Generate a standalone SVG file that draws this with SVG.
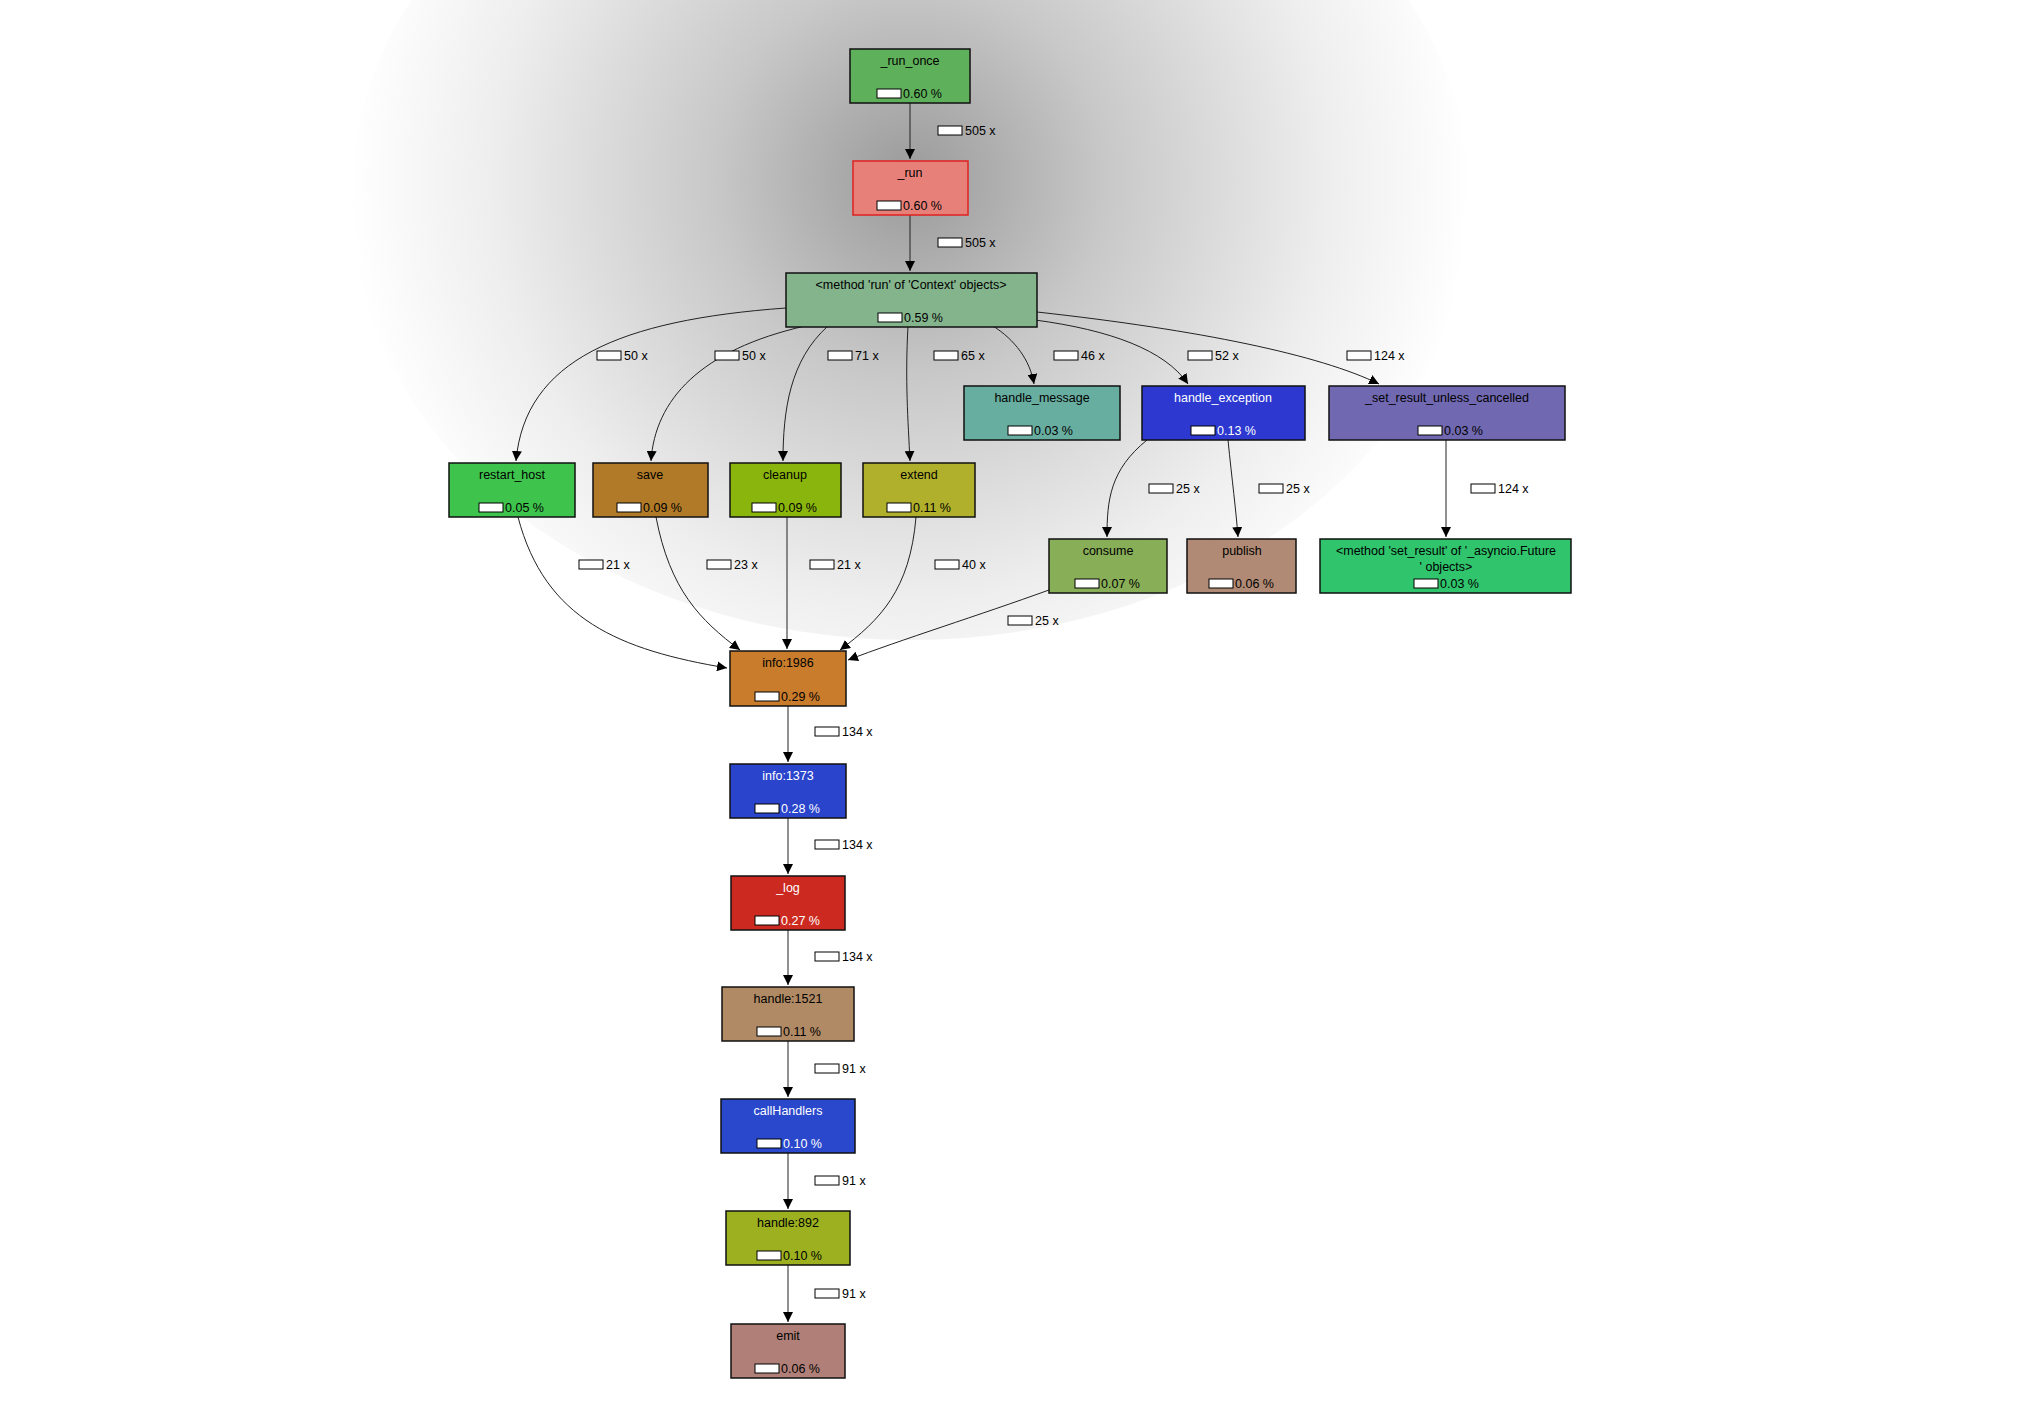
<svg xmlns="http://www.w3.org/2000/svg" width="2020" height="1428" viewBox="0 0 2020 1428">
<defs>
<radialGradient id="bg" cx="910" cy="180" r="560" gradientUnits="userSpaceOnUse">
<stop offset="0" stop-color="#9a9a9a"/><stop offset="0.35" stop-color="#c8c8c8"/><stop offset="0.75" stop-color="#eeeeee"/><stop offset="1" stop-color="#ffffff"/>
</radialGradient>
<marker id="ah" viewBox="0 0 10 10" refX="10" refY="5" markerWidth="10" markerHeight="10" markerUnits="userSpaceOnUse" orient="auto"><path d="M0,0 L10,5 L0,10 z" fill="#000"/></marker>
</defs>
<style>
.n rect.b{stroke:#111;stroke-width:1.5}
text{font-family:"Liberation Sans",Arial,sans-serif;font-size:12.5px;fill:#000}
.w text{fill:#fff}
.bar{fill:#fff;stroke:#000;stroke-width:1}
.e path{fill:none;stroke:#222;stroke-width:1;marker-end:url(#ah)}
.lb text{font-size:12.5px}
</style>
<rect width="2020" height="1428" fill="#fff"/>
<ellipse cx="910" cy="200" rx="560" ry="440" fill="url(#bg)"/>
<rect x="0" y="620" width="2020" height="808" fill="#fff" opacity="0"/>
<g class="e" id="edges">
<path d="M910,103 V159"/>
<path d="M910,215 V271"/>
<path d="M786,308 C620,320 525,360 516,461"/>
<path d="M805,326 C700,350 655,400 651,461"/>
<path d="M828,326 C790,360 783,410 783,461"/>
<path d="M908,326 C905,380 908,420 910,461"/>
<path d="M993,326 C1015,340 1030,360 1034,384"/>
<path d="M1035,320 C1110,330 1165,350 1188,384"/>
<path d="M1037,312 C1200,330 1320,355 1379,384"/>
<path d="M1147,440 C1110,470 1107,500 1107,537"/>
<path d="M1228,440 C1232,480 1236,510 1238,537"/>
<path d="M1446,440 V537"/>
<path d="M518,517 C545,620 620,650 727,668"/>
<path d="M656,517 C670,590 700,620 740,650"/>
<path d="M787,517 V649"/>
<path d="M916,517 C910,590 880,620 840,650"/>
<path d="M1049,590 C980,615 900,640 848,660"/>
<path d="M788,706 V762"/>
<path d="M788,818 V874"/>
<path d="M788,930 V985"/>
<path d="M788,1041 V1097"/>
<path d="M788,1153 V1209"/>
<path d="M788,1265 V1322"/>
</g>
<g class="lb" id="edge-labels">
<g transform="translate(938,126)"><rect class="bar" width="24" height="9"/><text x="27" y="9">505 x</text></g>
<g transform="translate(938,238)"><rect class="bar" width="24" height="9"/><text x="27" y="9">505 x</text></g>
<g transform="translate(597,351)"><rect class="bar" width="24" height="9"/><text x="27" y="9">50 x</text></g>
<g transform="translate(715,351)"><rect class="bar" width="24" height="9"/><text x="27" y="9">50 x</text></g>
<g transform="translate(828,351)"><rect class="bar" width="24" height="9"/><text x="27" y="9">71 x</text></g>
<g transform="translate(934,351)"><rect class="bar" width="24" height="9"/><text x="27" y="9">65 x</text></g>
<g transform="translate(1054,351)"><rect class="bar" width="24" height="9"/><text x="27" y="9">46 x</text></g>
<g transform="translate(1188,351)"><rect class="bar" width="24" height="9"/><text x="27" y="9">52 x</text></g>
<g transform="translate(1347,351)"><rect class="bar" width="24" height="9"/><text x="27" y="9">124 x</text></g>
<g transform="translate(1149,484)"><rect class="bar" width="24" height="9"/><text x="27" y="9">25 x</text></g>
<g transform="translate(1259,484)"><rect class="bar" width="24" height="9"/><text x="27" y="9">25 x</text></g>
<g transform="translate(1471,484)"><rect class="bar" width="24" height="9"/><text x="27" y="9">124 x</text></g>
<g transform="translate(579,560)"><rect class="bar" width="24" height="9"/><text x="27" y="9">21 x</text></g>
<g transform="translate(707,560)"><rect class="bar" width="24" height="9"/><text x="27" y="9">23 x</text></g>
<g transform="translate(810,560)"><rect class="bar" width="24" height="9"/><text x="27" y="9">21 x</text></g>
<g transform="translate(935,560)"><rect class="bar" width="24" height="9"/><text x="27" y="9">40 x</text></g>
<g transform="translate(1008,616)"><rect class="bar" width="24" height="9"/><text x="27" y="9">25 x</text></g>
<g transform="translate(815,727)"><rect class="bar" width="24" height="9"/><text x="27" y="9">134 x</text></g>
<g transform="translate(815,840)"><rect class="bar" width="24" height="9"/><text x="27" y="9">134 x</text></g>
<g transform="translate(815,952)"><rect class="bar" width="24" height="9"/><text x="27" y="9">134 x</text></g>
<g transform="translate(815,1064)"><rect class="bar" width="24" height="9"/><text x="27" y="9">91 x</text></g>
<g transform="translate(815,1176)"><rect class="bar" width="24" height="9"/><text x="27" y="9">91 x</text></g>
<g transform="translate(815,1289)"><rect class="bar" width="24" height="9"/><text x="27" y="9">91 x</text></g>
</g>
<g class="n" id="n_run_once"><rect class="b" x="850" y="49" width="120" height="54" fill="#5fb05a"/><text x="910" y="65" text-anchor="middle">_run_once</text><rect class="bar" x="877" y="89" width="24" height="9"/><text x="903" y="98">0.60 %</text></g>
<g class="n" id="n_run"><rect class="b" x="853" y="161" width="115" height="54" fill="#e8807a" style="stroke:#e02020"/><text x="910" y="177" text-anchor="middle">_run</text><rect class="bar" x="877" y="201" width="24" height="9"/><text x="903" y="210">0.60 %</text></g>
<g class="n" id="n_ctx"><rect class="b" x="786" y="273" width="251" height="54" fill="#84b48c"/><text x="911" y="289" text-anchor="middle">&lt;method 'run' of 'Context' objects&gt;</text><rect class="bar" x="878" y="313" width="24" height="9"/><text x="904" y="322">0.59 %</text></g>
<g class="n" id="n_restart_host"><rect class="b" x="449" y="463" width="126" height="54" fill="#3ec44c"/><text x="512" y="479" text-anchor="middle">restart_host</text><rect class="bar" x="479" y="503" width="24" height="9"/><text x="505" y="512">0.05 %</text></g>
<g class="n" id="n_save"><rect class="b" x="593" y="463" width="115" height="54" fill="#b07a28"/><text x="650" y="479" text-anchor="middle">save</text><rect class="bar" x="617" y="503" width="24" height="9"/><text x="643" y="512">0.09 %</text></g>
<g class="n" id="n_cleanup"><rect class="b" x="730" y="463" width="111" height="54" fill="#8ab50c"/><text x="785" y="479" text-anchor="middle">cleanup</text><rect class="bar" x="752" y="503" width="24" height="9"/><text x="778" y="512">0.09 %</text></g>
<g class="n" id="n_extend"><rect class="b" x="863" y="463" width="112" height="54" fill="#b0b02c"/><text x="919" y="479" text-anchor="middle">extend</text><rect class="bar" x="887" y="503" width="24" height="9"/><text x="913" y="512">0.11 %</text></g>
<g class="n" id="n_handle_message"><rect class="b" x="964" y="386" width="156" height="54" fill="#68aea0"/><text x="1042" y="402" text-anchor="middle">handle_message</text><rect class="bar" x="1008" y="426" width="24" height="9"/><text x="1034" y="435">0.03 %</text></g>
<g class="n w" id="n_handle_exception"><rect class="b" x="1142" y="386" width="163" height="54" fill="#2c38d0"/><text x="1223" y="402" text-anchor="middle">handle_exception</text><rect class="bar" x="1191" y="426" width="24" height="9"/><text x="1217" y="435">0.13 %</text></g>
<g class="n" id="n_set_result_unless"><rect class="b" x="1329" y="386" width="236" height="54" fill="#7068b0"/><text x="1447" y="402" text-anchor="middle">_set_result_unless_cancelled</text><rect class="bar" x="1418" y="426" width="24" height="9"/><text x="1444" y="435">0.03 %</text></g>
<g class="n" id="n_consume"><rect class="b" x="1049" y="539" width="118" height="54" fill="#88ae58"/><text x="1108" y="555" text-anchor="middle">consume</text><rect class="bar" x="1075" y="579" width="24" height="9"/><text x="1101" y="588">0.07 %</text></g>
<g class="n" id="n_publish"><rect class="b" x="1187" y="539" width="109" height="54" fill="#b08a74"/><text x="1242" y="555" text-anchor="middle">publish</text><rect class="bar" x="1209" y="579" width="24" height="9"/><text x="1235" y="588">0.06 %</text></g>
<g class="n" id="n_set_result"><rect class="b" x="1320" y="539" width="251" height="54" fill="#30c46c"/><text x="1446" y="555" text-anchor="middle">&lt;method 'set_result' of '_asyncio.Future</text><text x="1446" y="571" text-anchor="middle">' objects&gt;</text><rect class="bar" x="1414" y="579" width="24" height="9"/><text x="1440" y="588">0.03 %</text></g>
<g class="n" id="n_info1986"><rect class="b" x="730" y="651" width="116" height="55" fill="#c87c2c"/><text x="788" y="667" text-anchor="middle">info:1986</text><rect class="bar" x="755" y="692" width="24" height="9"/><text x="781" y="701">0.29 %</text></g>
<g class="n w" id="n_info1373"><rect class="b" x="730" y="764" width="116" height="54" fill="#2a44cc"/><text x="788" y="780" text-anchor="middle">info:1373</text><rect class="bar" x="755" y="804" width="24" height="9"/><text x="781" y="813">0.28 %</text></g>
<g class="n w" id="n_log"><rect class="b" x="731" y="876" width="114" height="54" fill="#cc2a20"/><text x="788" y="892" text-anchor="middle">_log</text><rect class="bar" x="755" y="916" width="24" height="9"/><text x="781" y="925">0.27 %</text></g>
<g class="n" id="n_handle1521"><rect class="b" x="722" y="987" width="132" height="54" fill="#b08a64"/><text x="788" y="1003" text-anchor="middle">handle:1521</text><rect class="bar" x="757" y="1027" width="24" height="9"/><text x="783" y="1036">0.11 %</text></g>
<g class="n w" id="n_callHandlers"><rect class="b" x="721" y="1099" width="134" height="54" fill="#2a48cc"/><text x="788" y="1115" text-anchor="middle">callHandlers</text><rect class="bar" x="757" y="1139" width="24" height="9"/><text x="783" y="1148">0.10 %</text></g>
<g class="n" id="n_handle892"><rect class="b" x="726" y="1211" width="124" height="54" fill="#9cb020"/><text x="788" y="1227" text-anchor="middle">handle:892</text><rect class="bar" x="757" y="1251" width="24" height="9"/><text x="783" y="1260">0.10 %</text></g>
<g class="n" id="n_emit"><rect class="b" x="731" y="1324" width="114" height="54" fill="#b08078"/><text x="788" y="1340" text-anchor="middle">emit</text><rect class="bar" x="755" y="1364" width="24" height="9"/><text x="781" y="1373">0.06 %</text></g>
</svg>
